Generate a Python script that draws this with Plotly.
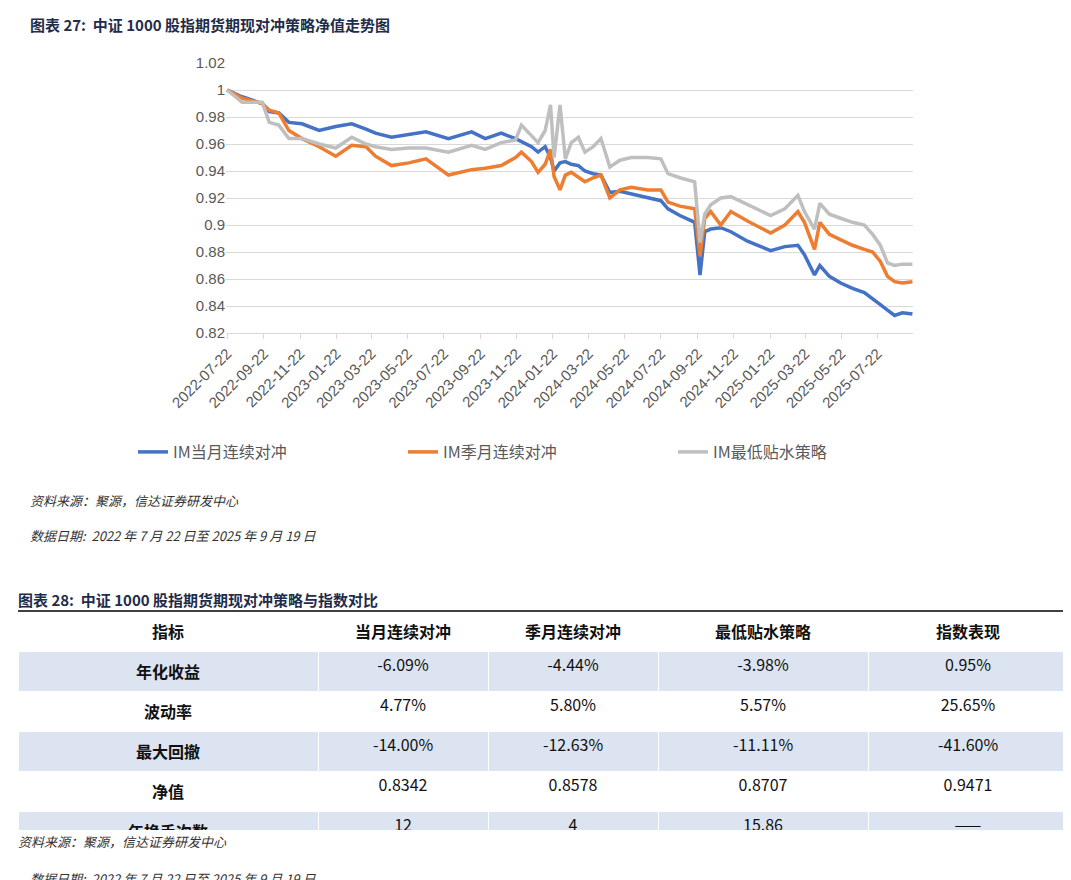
import plotly.graph_objects as go

dates = ["2022-07-22","2022-08-16","2022-09-19","2022-10-01","2022-10-17","2022-11-03","2022-11-25","2022-12-24",
"2023-01-21","2023-02-17","2023-03-13","2023-03-29","2023-04-25","2023-05-24","2023-06-22","2023-07-30",
"2023-09-07","2023-09-30","2023-10-27","2023-11-20","2023-11-30","2023-12-17","2023-12-28","2024-01-09",
"2024-01-18","2024-01-24","2024-02-03","2024-02-12","2024-02-22","2024-03-05","2024-03-16","2024-03-30",
"2024-04-12","2024-04-27","2024-05-14","2024-06-02","2024-06-30","2024-07-22","2024-08-03","2024-08-23",
"2024-09-17","2024-09-26","2024-10-04","2024-10-14","2024-10-31","2024-11-17","2024-12-15","2025-01-23",
"2025-02-16","2025-03-10","2025-03-21","2025-04-07","2025-04-16","2025-05-02","2025-05-21","2025-06-10",
"2025-06-30","2025-07-14","2025-07-27","2025-08-08","2025-08-20","2025-09-02","2025-09-19"]

im_month = [1.000,0.995,0.990,0.984,0.983,0.976,0.975,0.970,0.973,0.975,0.971,0.968,0.965,0.967,0.969,0.964,
0.969,0.964,0.968,0.964,0.962,0.958,0.954,0.958,0.950,0.940,0.946,0.947,0.945,0.944,0.940,0.938,
0.937,0.924,0.925,0.923,0.920,0.918,0.912,0.907,0.902,0.863,0.895,0.897,0.898,0.895,0.888,0.881,
0.884,0.885,0.878,0.863,0.870,0.862,0.857,0.853,0.850,0.845,0.841,0.837,0.833,0.835,0.834]

im_quarter = [1.000,0.994,0.990,0.985,0.983,0.970,0.964,0.958,0.951,0.959,0.958,0.951,0.944,0.946,0.949,0.937,
0.941,0.942,0.944,0.950,0.954,0.947,0.939,0.945,0.956,0.936,0.926,0.937,0.939,0.935,0.932,0.935,
0.937,0.920,0.926,0.928,0.926,0.926,0.917,0.914,0.912,0.877,0.905,0.910,0.900,0.910,0.903,0.894,
0.900,0.910,0.902,0.882,0.902,0.893,0.889,0.885,0.882,0.880,0.873,0.862,0.858,0.857,0.858]

im_lowest = [1.000,0.991,0.991,0.976,0.974,0.964,0.964,0.960,0.957,0.965,0.960,0.958,0.956,0.957,0.957,0.954,
0.959,0.956,0.961,0.963,0.974,0.966,0.961,0.970,0.989,0.950,0.989,0.949,0.961,0.965,0.954,0.958,
0.964,0.943,0.948,0.950,0.950,0.949,0.938,0.935,0.932,0.887,0.908,0.915,0.920,0.921,0.915,0.907,
0.912,0.922,0.910,0.897,0.916,0.908,0.905,0.902,0.900,0.893,0.885,0.872,0.870,0.871,0.871]

series_names = ["IM当月连续对冲", "IM季月连续对冲", "IM最低贴水策略"]
series_colors = ["#4472C4", "#ED7D31", "#BFBFBF"]

tick_dates = ["2022-07-22","2022-09-22","2022-11-22","2023-01-22","2023-03-22","2023-05-22","2023-07-22",
"2023-09-22","2023-11-22","2024-01-22","2024-03-22","2024-05-22","2024-07-22","2024-09-22","2024-11-22",
"2025-01-22","2025-03-22","2025-05-22","2025-07-22"]

tbl_header = ["指标", "当月连续对冲", "季月连续对冲", "最低贴水策略", "指数表现"]
tbl_metrics = ["年化收益", "波动率", "最大回撤", "净值", "年换手次数", "2025 年以来收益"]
tbl_month = ["-6.09%", "4.77%", "-14.00%", "0.8342", "12", "-10.20%"]
tbl_quarter = ["-4.44%", "5.80%", "-12.63%", "0.8578", "4", "-5.23%"]
tbl_lowest = ["-3.98%", "5.57%", "-11.11%", "0.8707", "15.86", "-5.27%"]
tbl_index = ["0.95%", "25.65%", "-41.60%", "0.9471", "——", "28.31%"]

assert len(dates) == len(im_month) == len(im_quarter) == len(im_lowest)

W, H = 1071, 880
FONT = "Noto Sans CJK SC"
fig = go.Figure()
for name, vals, col in zip(series_names, [im_month, im_quarter, im_lowest], series_colors):
    fig.add_trace(go.Scatter(x=dates, y=vals, name=name, mode="lines",
                             line=dict(color=col, width=3.5)))

stripe = "#DCE4F2"
row_fill = [stripe if i % 2 == 0 else "white" for i in range(len(tbl_metrics))]
fig.add_trace(go.Table(
    domain=dict(x=[10/W, 1060/W], y=[1-822/H, 1-603/H]),
    columnwidth=[300, 170, 170, 210, 200],
    header=dict(values=[f"<b>{h}</b>" for h in tbl_header], height=34,
                fill_color="white", line_color="white",
                font=dict(family=FONT, size=16, color="#111111"), align="center"),
    cells=dict(values=[[f"<b>{m}</b>" for m in tbl_metrics], tbl_month, tbl_quarter, tbl_lowest, tbl_index],
               height=30, fill_color=[row_fill]*5, line_color="white",
               font=dict(family=FONT, size=16, color="#111111"), align="center"),
))

fig.update_layout(
    width=W, height=H, margin=dict(l=0, r=0, t=0, b=0, autoexpand=False),
    paper_bgcolor="white", plot_bgcolor="white",
    font=dict(family=FONT, color="#595959"),
    xaxis=dict(domain=[218/W, 905/W], type="date", range=["2022-07-20", "2025-09-20"],
               tickvals=tick_dates, ticktext=tick_dates, tickangle=-45,
               tickfont=dict(size=15, color="#595959", family="Liberation Sans"),
               showgrid=False, showline=True, linecolor="#D9D9D9", ticks="outside",
               tickcolor="#D9D9D9", ticklen=5),
    yaxis=dict(domain=[1-325/H, 1-55/H], range=[0.82, 1.02], dtick=0.02,
               tickfont=dict(size=15, color="#595959", family="Liberation Sans"),
               showgrid=True, gridcolor="#D9D9D9", zeroline=False, showline=False),
    legend=dict(orientation="h", x=530/W, xanchor="center", y=1-444/H, yanchor="middle",
                font=dict(size=16, color="#595959"), entrywidth=225),
    shapes=[dict(type="line", xref="paper", yref="paper", x0=10/W, x1=1060/W,
                 y0=1-603/H, y1=1-603/H, line=dict(color="black", width=1.5))],
)

def txt(x, y, s, size=13, color="#333333", bold=False, italic=False):
    t = s
    if bold:
        t = f"<b>{t}</b>"
    if italic:
        t = f"<i>{t}</i>"
    fig.add_annotation(x=x/W, y=1-y/H, xref="paper", yref="paper", text=t, showarrow=False,
                       xanchor="left", yanchor="middle", font=dict(size=size, color=color, family=FONT))

txt(20, 16, "图表 27:  中证 1000 股指期货期现对冲策略净值走势图", size=15, color="#1F2D4A", bold=True)
txt(20, 492, "资料来源：聚源，信达证券研发中心", size=13, italic=True)
txt(20, 527, "数据日期:  2022 年 7 月 22 日至 2025 年 9 月 19 日", size=13, italic=True)
txt(8, 591, "图表 28:  中证 1000 股指期货期现对冲策略与指数对比", size=15, color="#1F2D4A", bold=True)
txt(8, 833, "资料来源：聚源，信达证券研发中心", size=13, italic=True)
txt(20, 870, "数据日期:  2022 年 7 月 22 日至 2025 年 9 月 19 日", size=13, italic=True)

fig.write_html("out.html")
